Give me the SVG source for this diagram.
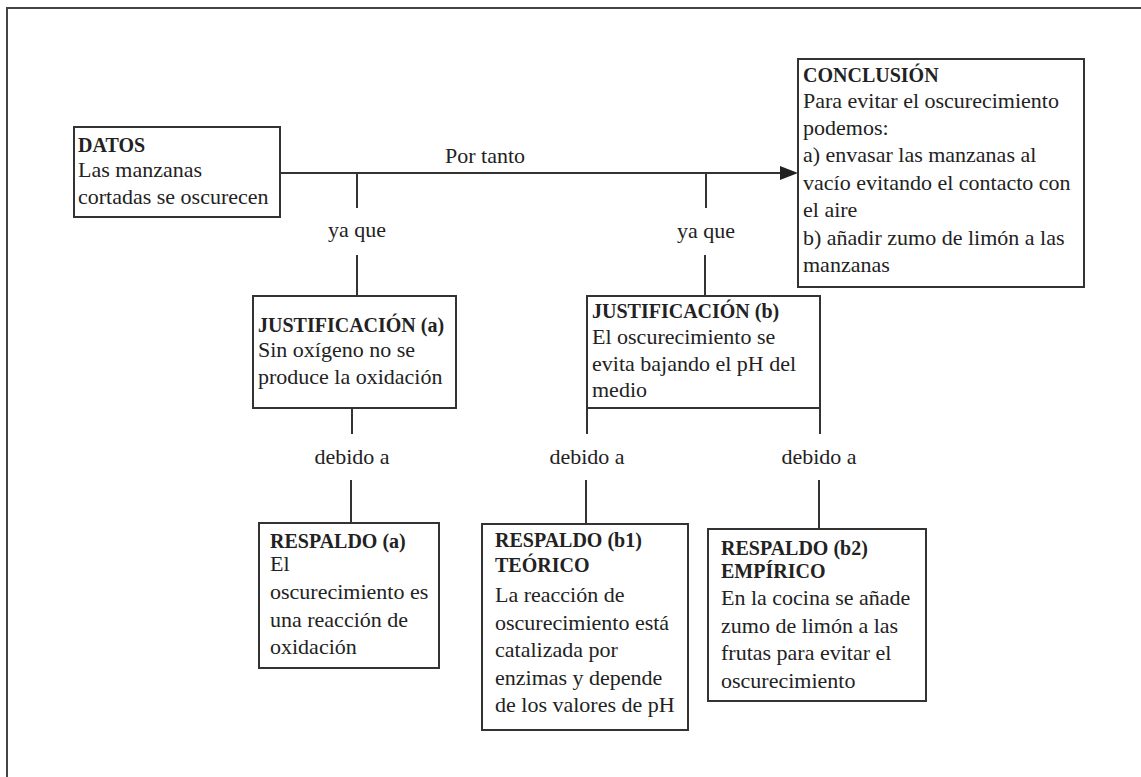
<svg xmlns="http://www.w3.org/2000/svg" width="1141" height="777" viewBox="0 0 1141 777">
<style>
  text { font-family: "Liberation Serif", "Times New Roman", serif; fill: #222; }
  .t { font-size: 20px; font-weight: bold; }
  .b { font-size: 22px; }
  .lbl { font-size: 22px; text-anchor: middle; }
  .box { fill: #fff; stroke: #333; stroke-width: 2; }
  .ln { stroke: #333; stroke-width: 2; fill: none; }
</style>
<defs>
  <marker id="arr" markerWidth="10" markerHeight="8" refX="10" refY="4" orient="auto" markerUnits="userSpaceOnUse" viewBox="0 0 10 8">
    <path d="M0,0 L10,4 L0,8 Z" fill="#222"/>
  </marker>
</defs>
<rect x="0" y="0" width="1141" height="777" fill="#fff"/>
<path d="M7,777 V8 H1141" fill="none" stroke="#444" stroke-width="2"/>

<g id="connectors">
  <line class="ln" x1="280" y1="173" x2="780" y2="173"/>
  <path d="M780,166 L798,173 L780,180 Z" fill="#222"/>
  <text class="lbl" x="485" y="163">Por tanto</text>
  <line class="ln" x1="357" y1="173" x2="357" y2="208"/>
  <line class="ln" x1="706" y1="173" x2="706" y2="208"/>
  <text class="lbl" x="357" y="237">ya que</text>
  <text class="lbl" x="706" y="238">ya que</text>
  <line class="ln" x1="357" y1="255" x2="357" y2="296"/>
  <line class="ln" x1="705" y1="255" x2="705" y2="296"/>
  <line class="ln" x1="352" y1="408" x2="352" y2="434"/>
  <line class="ln" x1="587" y1="408" x2="587" y2="434"/>
  <line class="ln" x1="820" y1="408" x2="820" y2="434"/>
  <text class="lbl" x="352" y="464">debido a</text>
  <text class="lbl" x="587" y="464">debido a</text>
  <text class="lbl" x="819" y="464">debido a</text>
  <line class="ln" x1="351" y1="480" x2="351" y2="523"/>
  <line class="ln" x1="586" y1="480" x2="586" y2="524"/>
  <line class="ln" x1="819" y1="480" x2="819" y2="529"/>
</g>

<g id="datos">
  <rect class="box" x="74" y="127" width="206" height="90"/>
  <text class="t" x="78" y="152">DATOS</text>
  <text class="b" x="78" y="177">Las manzanas</text>
  <text class="b" x="78" y="204">cortadas se oscurecen</text>
</g>

<g id="conclusion">
  <rect class="box" x="798" y="59" width="286" height="228"/>
  <text class="t" x="803" y="82">CONCLUSIÓN</text>
  <text class="b" x="803" y="108">Para evitar el oscurecimiento</text>
  <text class="b" x="803" y="135">podemos:</text>
  <text class="b" x="803" y="162">a) envasar las manzanas al</text>
  <text class="b" x="803" y="190">vacío evitando el contacto con</text>
  <text class="b" x="803" y="217">el aire</text>
  <text class="b" x="803" y="245">b) añadir zumo de limón a las</text>
  <text class="b" x="803" y="272">manzanas</text>
</g>

<g id="justificacion-a">
  <rect class="box" x="253" y="296" width="203" height="112"/>
  <text class="t" x="258" y="332">JUSTIFICACIÓN (a)</text>
  <text class="b" x="258" y="357">Sin oxígeno no se</text>
  <text class="b" x="258" y="384">produce la oxidación</text>
</g>

<g id="justificacion-b">
  <rect class="box" x="587" y="296" width="233" height="112"/>
  <text class="t" x="592" y="318">JUSTIFICACIÓN (b)</text>
  <text class="b" x="592" y="344">El oscurecimiento se</text>
  <text class="b" x="592" y="371">evita bajando el pH del</text>
  <text class="b" x="592" y="397">medio</text>
</g>

<g id="respaldo-a">
  <rect class="box" x="259" y="523" width="180" height="145"/>
  <text class="t" x="270" y="548">RESPALDO (a)</text>
  <text class="b" x="270" y="571">El</text>
  <text class="b" x="270" y="599">oscurecimiento es</text>
  <text class="b" x="270" y="627">una reacción de</text>
  <text class="b" x="270" y="654">oxidación</text>
</g>

<g id="respaldo-b1">
  <rect class="box" x="482" y="524" width="206" height="206"/>
  <text class="t" x="495" y="547">RESPALDO (b1)</text>
  <text class="t" x="495" y="572">TEÓRICO</text>
  <text class="b" x="495" y="602">La reacción de</text>
  <text class="b" x="495" y="630">oscurecimiento está</text>
  <text class="b" x="495" y="657">catalizada por</text>
  <text class="b" x="495" y="685">enzimas y depende</text>
  <text class="b" x="495" y="712">de los valores de pH</text>
</g>

<g id="respaldo-b2">
  <rect class="box" x="708" y="529" width="218" height="172"/>
  <text class="t" x="721" y="555">RESPALDO (b2)</text>
  <text class="t" x="721" y="578">EMPÍRICO</text>
  <text class="b" x="721" y="605">En la cocina se añade</text>
  <text class="b" x="721" y="633">zumo de limón a las</text>
  <text class="b" x="721" y="660">frutas para evitar el</text>
  <text class="b" x="721" y="688">oscurecimiento</text>
</g>
</svg>
